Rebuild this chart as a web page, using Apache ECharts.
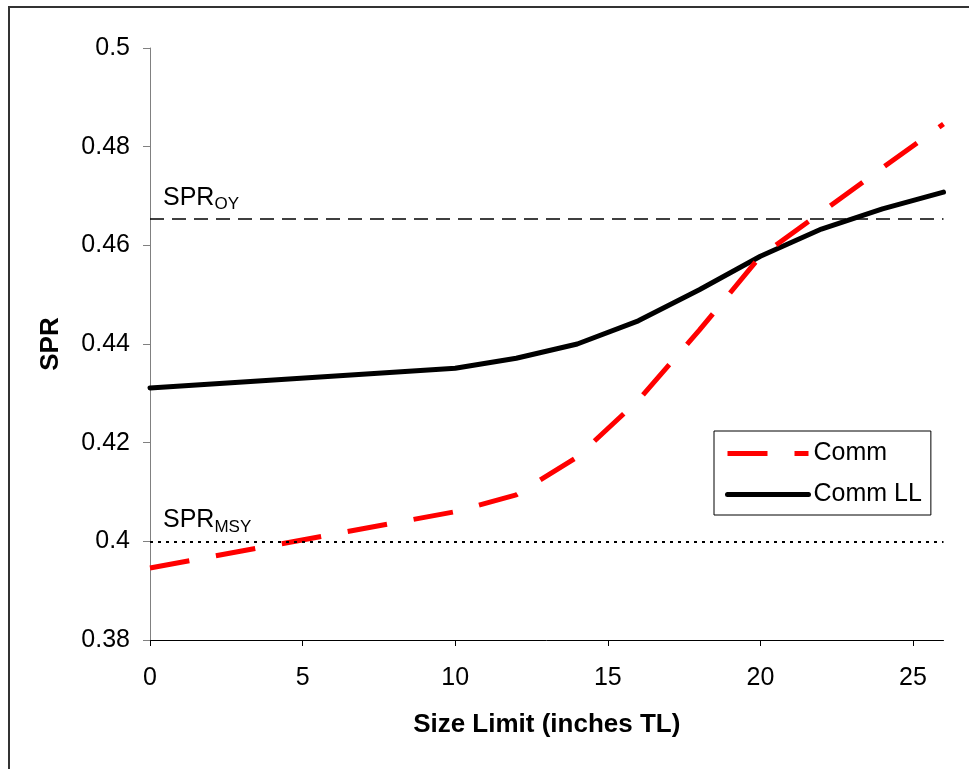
<!DOCTYPE html>
<html>
<head>
<meta charset="utf-8">
<script src="https://cdn.jsdelivr.net/npm/echarts@6/dist/echarts.min.js"></script>
<style>
  html, body { margin: 0; padding: 0; background: #fff; }
  #main { width: 969px; height: 769px; }
</style>
</head>
<body>
<div id="main"></div>
<script>
// size limits (inches TL)
var sizeLimits = [0, 10, 12, 14, 16, 18, 20, 22, 24, 26]
var comm = [0.3946, 0.406, 0.4094, 0.4171, 0.4286, 0.4428, 0.4578, 0.4667, 0.4757, 0.4846]
var commLL = [0.4311, 0.4351, 0.4371, 0.440, 0.4447, 0.4510, 0.4578, 0.4633, 0.4674, 0.4708]
var sprOY = 0.4653
var sprMSY = 0.40
var yTicks = [0.38, 0.40, 0.42, 0.44, 0.46, 0.48, 0.50]
var xTicks = [0, 5, 10, 15, 20, 25]

var FONT = 'Liberation Sans, Arial, sans-serif'

function pairs (xs, ys) {
  return xs.map(function (x, i) { return [x, ys[i]] })
}

var myChart = echarts.init(document.getElementById('main'))

var subRich = {
  a: { fontSize: 25, fontFamily: FONT, color: '#000' },
  b: { fontSize: 17, fontFamily: FONT, color: '#000', padding: [14, 0, 0, 0] }
}

var option = {
  backgroundColor: '#fff',
  animation: false,
  graphic: [{
    type: 'rect',
    shape: { x: 9, y: 7, width: 1000, height: 800 },
    style: { fill: 'none', stroke: '#333', lineWidth: 2 },
    silent: true
  }],
  grid: {
    left: 150,
    right: 25.5,
    top: 48,
    bottom: 129
  },
  legend: {
    orient: 'vertical',
    left: 714,
    top: 431,
    padding: [10, 9, 8, 11],
    itemWidth: 81,
    itemHeight: 14,
    itemGap: 16,
    borderColor: '#000',
    borderWidth: 1,
    backgroundColor: '#fff',
    itemStyle: { opacity: 0 },
    textStyle: { fontSize: 25, fontFamily: FONT, color: '#000' },
    data: [
      { name: 'Comm', lineStyle: { width: 5, color: '#ff0000', type: [40, 27] } },
      { name: 'Comm LL', lineStyle: { width: 5, color: '#000' } }
    ]
  },
  xAxis: {
    type: 'value',
    min: 0,
    max: 26,
    interval: 5,
    name: 'Size Limit (inches TL)',
    nameLocation: 'middle',
    nameGap: 72,
    nameTextStyle: { fontSize: 26, fontWeight: 'bold', fontFamily: FONT, color: '#000', verticalAlign: 'top' },
    axisLine: { show: true, lineStyle: { color: '#000', width: 1 } },
    axisTick: { show: true, inside: false, length: 6, lineStyle: { color: '#000' } },
    axisLabel: {
      margin: 26,
      fontSize: 25,
      fontFamily: FONT,
      color: '#000',
      showMaxLabel: false,
      formatter: function (v) { return xTicks.indexOf(v) >= 0 ? String(v) : '' }
    },
    splitLine: { show: false }
  },
  yAxis: {
    type: 'value',
    min: 0.38,
    max: 0.5,
    interval: 0.02,
    name: 'SPR',
    nameLocation: 'middle',
    nameGap: 86,
    nameTextStyle: { fontSize: 26, fontWeight: 'bold', fontFamily: FONT, color: '#000' },
    axisLine: { show: true, lineStyle: { color: '#808080', width: 1 } },
    axisTick: { show: true, inside: false, length: 7, lineStyle: { color: '#808080' } },
    axisLabel: {
      margin: 20,
      fontSize: 25,
      fontFamily: FONT,
      color: '#000',
      formatter: function (v) {
        var t = yTicks.filter(function (y) { return Math.abs(y - v) < 1e-6 })
        return t.length ? String(parseFloat(t[0].toFixed(2))) : ''
      }
    },
    splitLine: { show: false }
  },
  series: [{
    name: 'Comm',
    type: 'line',
    data: pairs(sizeLimits, comm),
    symbol: 'none',
    z: 3,
    lineStyle: { color: '#ff0000', width: 5, type: [40, 27], cap: 'butt' },
    itemStyle: { color: '#ff0000' }
  }, {
    name: 'Comm LL',
    type: 'line',
    data: pairs(sizeLimits, commLL),
    symbol: 'none',
    z: 2,
    lineStyle: { color: '#000', width: 5, cap: 'round', join: 'round' },
    itemStyle: { color: '#000' },
    markLine: {
      silent: true,
      symbol: ['none', 'none'],
      precision: 4,
      animation: false,
      data: [{
        yAxis: sprOY,
        lineStyle: { color: '#000', width: 1.5, type: [14, 8] },
        label: {
          show: true,
          position: 'insideStartTop',
          distance: [13, 6],
          formatter: '{a|SPR}{b|OY}',
          rich: subRich
        }
      }, {
        yAxis: sprMSY,
        lineStyle: { color: '#000', width: 2, type: [3, 5] },
        label: {
          show: true,
          position: 'insideStartTop',
          distance: [13, 6],
          formatter: '{a|SPR}{b|MSY}',
          rich: subRich
        }
      }]
    }
  }]
}

myChart.setOption(option)
</script>
</body>
</html>
